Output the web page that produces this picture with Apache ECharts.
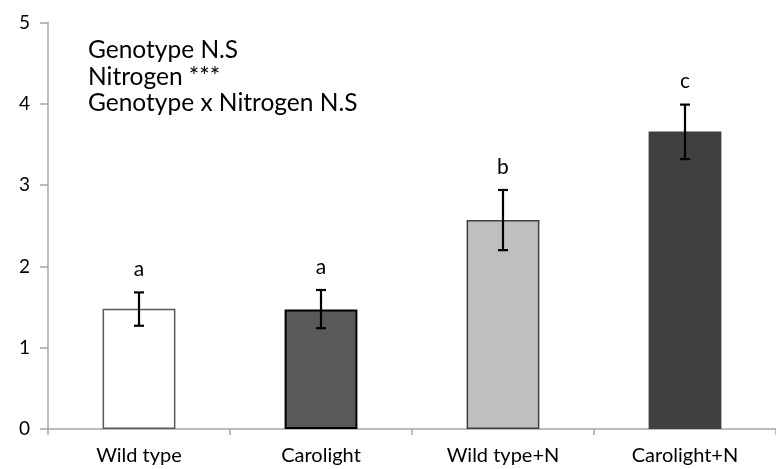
<!DOCTYPE html>
<html>
<head>
<meta charset="utf-8">
<script src="https://cdn.jsdelivr.net/npm/echarts@6/dist/echarts.min.js"></script>
<style>
  html, body { margin: 0; padding: 0; background: #fff; }
  #chart { width: 776px; height: 469px; }
</style>
</head>
<body>
<div id="chart"></div>
<script>
// Treatments along the x axis
const categories = ['Wild type', 'Carolight', 'Wild type+N', 'Carolight+N'];
// Mean values per treatment
const means = [1.48, 1.47, 2.57, 3.66];
// Error bar bounds (lower, upper)
const errLow = [1.27, 1.24, 2.20, 3.32];
const errHigh = [1.68, 1.71, 2.94, 3.99];
// Significance group letters
const groups = ['a', 'a', 'b', 'c'];
// Y axis tick values
const yTicks = [0, 1, 2, 3, 4, 5];
// ANOVA summary lines
const anovaLines = ['Genotype N.S', 'Nitrogen ***', 'Genotype x Nitrogen N.S'];

const barFills = ['#ffffff', '#595959', '#bfbfbf', '#404040'];
const barBorders = ['#595959', '#000000', '#404040', '#404040'];

const FONT = 'Lato';

const chart = echarts.init(document.getElementById('chart'), null, { renderer: 'canvas' });

const errData = categories.map((c, i) => [i, errLow[i], errHigh[i], groups[i]]);

chart.setOption({
  animation: false,
  backgroundColor: '#ffffff',
  grid: { left: 48, top: 22.5, width: 737, height: 406.5 },
  xAxis: {
    type: 'category',
    data: categories,
    boundaryGap: true,
    axisLine: { lineStyle: { color: '#a6a6a6', width: 1.5 } },
    axisTick: { show: true, alignWithLabel: false, length: 6, lineStyle: { color: '#a6a6a6', width: 1.5 } },
    axisLabel: { color: '#000', fontFamily: FONT, fontSize: 20, margin: 17 },
    splitLine: { show: false }
  },
  yAxis: {
    type: 'value',
    min: yTicks[0],
    max: yTicks[yTicks.length - 1],
    interval: 1,
    axisLine: { show: true, lineStyle: { color: '#a6a6a6', width: 1.5 } },
    axisTick: { show: true, length: 8, lineStyle: { color: '#a6a6a6', width: 1.5 } },
    axisLabel: { color: '#000', fontFamily: FONT, fontSize: 19, margin: 18 },
    splitLine: { show: false }
  },
  series: [
    {
      type: 'bar',
      barWidth: '40%',
      data: means.map((v, i) => ({
        value: v,
        itemStyle: { color: barFills[i], borderColor: barBorders[i], borderWidth: i === 1 ? 2 : 1.5 }
      }))
    },
    {
      type: 'custom',
      data: errData,
      z: 10,
      renderItem: function (params, api) {
        const x = api.value(0);
        const lo = api.coord([x, api.value(1)]);
        const hi = api.coord([x, api.value(2)]);
        const cap = 5;
        const style = { stroke: '#000', lineWidth: 2.2 };
        return {
          type: 'group',
          children: [
            { type: 'line', shape: { x1: hi[0], y1: hi[1], x2: lo[0], y2: lo[1] }, style: style },
            { type: 'line', shape: { x1: hi[0] - cap, y1: hi[1], x2: hi[0] + cap, y2: hi[1] }, style: style },
            { type: 'line', shape: { x1: lo[0] - cap, y1: lo[1], x2: lo[0] + cap, y2: lo[1] }, style: style },
            {
              type: 'text',
              style: {
                x: hi[0], y: hi[1] - 23,
                text: api.value(3),
                fill: '#000',
                font: '21px ' + FONT,
                align: 'center',
                verticalAlign: 'middle'
              }
            }
          ]
        };
      }
    }
  ],
  graphic: anovaLines.map((t, i) => ({
    type: 'text',
    left: 88,
    top: 37.5 + i * 26.7,
    style: { text: t, fill: '#000', font: '24.5px ' + FONT }
  }))
});
</script>
</body>
</html>
